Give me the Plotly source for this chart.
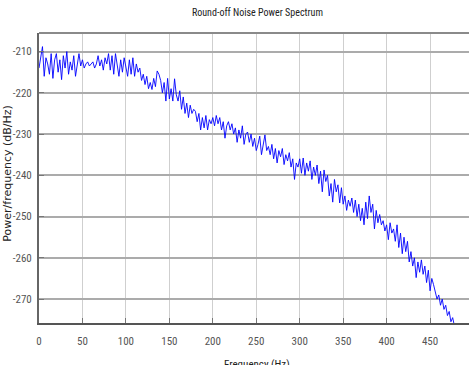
import plotly.graph_objects as go

# Frequency grid (Hz) and PSD values (dB/Hz)
freq_step = 2
power_db = [
    -214, -211, -208.8, -216, -211.5, -213, -215.5, -210.5, -216.5, -212,
    -210.5, -215, -212, -216.8, -211, -214, -210, -215.5, -212.5, -214.5,
    -211, -216, -212.5, -210.5, -213.5, -212, -214, -213, -212.5, -213.5,
    -213, -212.5, -214, -213, -211, -213.5, -212, -214.5, -211.5, -213,
    -210.5, -214.5, -211, -215.5, -210.5, -213, -216, -212, -215, -211.5,
    -214, -216, -212, -215.5, -211.5, -216, -213, -215, -214, -217,
    -215.5, -218, -216, -219, -217.5, -219.2, -216.5, -218.5, -214.7, -215.5,
    -217, -220, -217.5, -222, -216.5, -221.5, -219, -222, -216.6, -220.5,
    -222, -219.5, -224, -221, -225, -222.5, -226, -223, -225, -224,
    -224.5, -227, -225, -229, -226, -228.5, -225.5, -229, -226.5, -227.5,
    -226, -228, -225.5, -227.5, -226, -229, -227, -231, -228, -227,
    -229, -227.5, -230, -228.5, -232, -229, -231, -228, -232.5, -230,
    -229.5, -232, -230, -233, -231, -234, -232.5, -230.5, -235, -232,
    -230.2, -234, -233, -235, -232.5, -236, -233.5, -237, -234, -235.5,
    -233.5, -237.4, -235, -236.5, -234.5, -238, -236, -241, -237, -238,
    -236, -239.5, -235.8, -240, -237, -239, -236.5, -241, -238, -240,
    -237.5, -242, -239, -244, -238.7, -241.5, -240, -245, -242, -246.5,
    -241, -244, -242.3, -246.7, -243, -247, -245, -248.5, -246, -247.5,
    -245.5, -249, -246, -250, -247, -251, -248, -252, -246.5, -250.5,
    -245, -249, -247, -253, -248.5, -251.5, -249.5, -252, -251, -253.5,
    -252, -255.6, -251.5, -254, -253, -256, -252, -257.5, -254, -259,
    -255, -258.5, -256, -261, -258.5, -262, -260, -264.8, -261, -263.5,
    -260.5, -264, -262, -266, -263, -268, -265, -266.5, -268.5, -270,
    -269, -271.5, -270, -272.5, -271.5, -274, -273, -275.5, -274.5, -276.5,
    -277, -279, -278, -281, -280, -283, -282, -285, -284, -287,
    -288,
]
frequency_hz = [i * freq_step for i in range(len(power_db))]

x_ticks = [0, 50, 100, 150, 200, 250, 300, 350, 400, 450]
y_ticks = [-270, -260, -250, -240, -230, -220, -210]

narrow = "Liberation Sans Narrow, Arial Narrow, Roboto Condensed, Roboto, sans-serif"

fig = go.Figure()
fig.add_trace(go.Scatter(
    x=frequency_hz, y=power_db, mode="lines",
    line=dict(color="#0000ff", width=0.9), showlegend=False,
))

fig.update_layout(
    width=469, height=365,
    margin=dict(l=39, r=0, t=33, b=42),
    paper_bgcolor="white", plot_bgcolor="white",
    title=dict(text="Round-off Noise Power Spectrum", x=0.508, xref="paper",
               y=1, yref="container", yanchor="top", pad=dict(t=9),
               font=dict(family=narrow, size=10, color="#222222")),
    xaxis=dict(
        range=[0, 494.8], tickvals=x_ticks, ticktext=[str(v) for v in x_ticks],
        showgrid=True, gridcolor="#cfcfcf", gridwidth=1,
        showline=True, linecolor="#555555", linewidth=2, mirror=False,
        ticks="inside", ticklen=5, tickcolor="#777777", tickwidth=1,
        tickfont=dict(family=narrow, size=11, color="#555555"),
        ticklabelstandoff=7, zeroline=False,
    ),
    yaxis=dict(
        range=[-275.8, -205.5], tickvals=y_ticks, ticktext=[str(v) for v in y_ticks],
        showgrid=True, gridcolor="#ababab", gridwidth=1.5,
        showline=True, linecolor="#666666", linewidth=2, mirror=False,
        ticks="inside", ticklen=5, tickcolor="#777777", tickwidth=1,
        tickfont=dict(family=narrow, size=11, color="#555555"),
        ticklabelstandoff=3, zeroline=False,
    ),
    shapes=[dict(type="line", xref="paper", yref="paper", x0=0, x1=1, y0=1, y1=1,
                 line=dict(color="#8a8a8a", width=2))],
    annotations=[
        dict(text="Power/frequency (dB/Hz)", xref="paper", yref="paper",
             x=-0.072, y=0.515, showarrow=False, textangle=-90,
             xanchor="center", yanchor="middle",
             font=dict(family="DejaVu Sans, sans-serif", size=11, color="#222222")),
        dict(text="Frequency (Hz)", xref="paper", yref="paper",
             x=0.508, y=0, yshift=-33, showarrow=False,
             xanchor="center", yanchor="top",
             font=dict(family=narrow, size=11, color="#222222")),
    ],
)

fig.write_html("out.html")
